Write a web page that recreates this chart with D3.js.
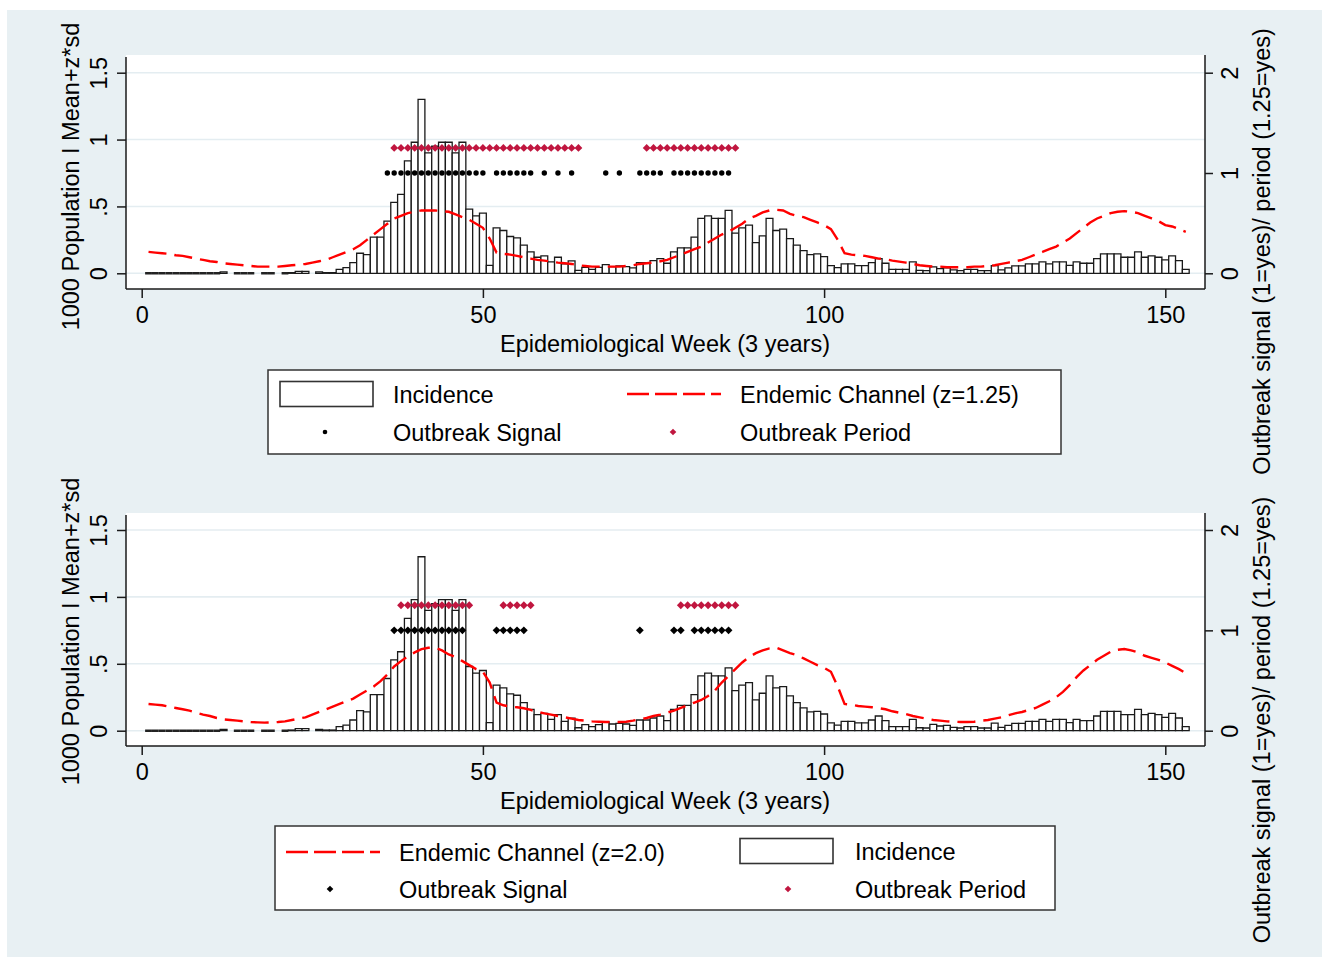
<!DOCTYPE html>
<html><head><meta charset="utf-8">
<script src="https://cdn.jsdelivr.net/npm/d3@7"></script>
<style>
html,body{margin:0;padding:0;background:#fff;}
svg{display:block;font-family:"Liberation Sans",Arial,Helvetica,sans-serif;}
</style></head><body>
<svg id="chart" width="1325" height="959"></svg>
<script>
// ---------- DATA ----------
const weeks = d3.range(1, 154); // epidemiological weeks 1..153

const incidence = [
  0,0,0,0,0,0,0,0,0,0,
  0,0.01,null,0,0,0,null,0,0,null,
  0,0.005,0.015,0.015,null,0.01,0.005,0.005,0.03,0.042,
  0.08,0.15,0.14,0.27,0.27,0.39,0.53,0.59,0.84,0.98,
  1.30,0.90,0.95,0.98,0.98,0.90,0.98,0.48,0.43,0.45,
  0.06,0.34,0.32,0.275,0.265,0.21,0.16,0.12,0.13,0.085,
  0.12,0.07,0.093,0.022,0.045,0.03,0.045,0.065,0.05,0.055,
  0.05,0.04,0.08,0.08,0.095,0.11,0.075,0.16,0.19,0.19,
  0.27,0.41,0.43,0.41,0.41,0.47,0.30,0.34,0.36,0.23,
  0.28,0.41,0.32,0.33,0.26,0.21,0.17,0.14,0.145,0.125,
  0.058,0.042,0.07,0.07,0.058,0.058,0.08,0.11,0.075,0.03,
  0.03,0.03,0.085,0.022,0.02,0.048,0.035,0.04,0.025,0.02,
  0.03,0.03,0.02,0.02,0.057,0.025,0.04,0.055,0.055,0.07,
  0.07,0.085,0.07,0.085,0.085,0.06,0.085,0.075,0.075,0.11,
  0.145,0.145,0.145,0.12,0.12,0.16,0.12,0.13,0.12,0.10,
  0.13,0.095,0.03
];

const endemicZ125 = [
  0.16,0.155,0.15,0.145,0.135,0.13,0.12,0.11,0.10,0.09,
  0.085,0.075,0.07,0.065,0.06,0.055,0.05,0.05,0.05,0.05,
  0.055,0.06,0.065,0.07,0.08,0.09,0.10,0.12,0.14,0.16,
  0.18,0.21,0.25,0.29,0.33,0.37,0.41,0.43,0.45,0.46,
  0.47,0.47,0.47,0.465,0.46,0.44,0.42,0.40,0.37,0.34,
  0.26,0.155,0.145,0.14,0.13,0.12,0.11,0.10,0.095,0.087,
  0.08,0.075,0.07,0.06,0.055,0.05,0.05,0.05,0.05,0.05,
  0.055,0.06,0.07,0.075,0.08,0.09,0.10,0.12,0.14,0.16,
  0.18,0.20,0.23,0.26,0.29,0.31,0.34,0.37,0.41,0.43,
  0.455,0.47,0.475,0.47,0.445,0.43,0.42,0.40,0.38,0.36,
  0.33,0.25,0.15,0.14,0.135,0.13,0.12,0.11,0.105,0.095,
  0.087,0.08,0.07,0.06,0.055,0.05,0.05,0.045,0.045,0.045,
  0.045,0.05,0.05,0.055,0.06,0.07,0.08,0.09,0.10,0.12,
  0.14,0.16,0.18,0.20,0.23,0.26,0.30,0.34,0.38,0.41,
  0.43,0.45,0.46,0.465,0.46,0.45,0.43,0.41,0.39,0.36,
  0.35,0.33,0.31
];

const endemicZ20 = [
  0.20,0.195,0.19,0.18,0.17,0.16,0.15,0.135,0.12,0.11,
  0.095,0.085,0.08,0.075,0.07,0.065,0.062,0.06,0.062,0.065,
  0.07,0.08,0.09,0.10,0.12,0.14,0.16,0.18,0.20,0.22,
  0.24,0.27,0.30,0.33,0.37,0.42,0.48,0.52,0.555,0.585,
  0.61,0.62,0.62,0.60,0.57,0.55,0.52,0.49,0.46,0.44,
  0.36,0.21,0.19,0.18,0.175,0.168,0.155,0.14,0.13,0.12,
  0.11,0.10,0.09,0.08,0.075,0.07,0.067,0.065,0.065,0.065,
  0.067,0.075,0.085,0.095,0.11,0.12,0.135,0.15,0.17,0.19,
  0.21,0.23,0.26,0.30,0.36,0.41,0.46,0.51,0.55,0.58,
  0.60,0.615,0.62,0.60,0.58,0.565,0.54,0.515,0.49,0.47,
  0.44,0.33,0.20,0.195,0.185,0.18,0.175,0.168,0.16,0.145,
  0.135,0.125,0.11,0.10,0.09,0.08,0.075,0.07,0.067,0.065,
  0.065,0.067,0.075,0.08,0.09,0.10,0.115,0.13,0.14,0.155,
  0.17,0.195,0.22,0.25,0.29,0.34,0.40,0.45,0.49,0.53,
  0.56,0.59,0.605,0.61,0.60,0.585,0.56,0.545,0.53,0.51,
  0.485,0.46,0.43
];

// weeks flagged (signal = 1, period = 1.25 on right axis)
const signalTop = [36,37,38,39,40,41,42,43,44,45,46,47,48,49,50,52,53,54,55,56,57,59,61,63,68,70,73,74,75,76,78,79,80,81,82,83,84,85,86];
const periodTop = [37,38,39,40,41,42,43,44,45,46,47,48,49,50,51,52,53,54,55,56,57,58,59,60,61,62,63,64,74,75,76,77,78,79,80,81,82,83,84,85,86,87];
const signalBottom = [37,38,39,40,41,42,43,44,45,46,47,52,53,54,55,56,73,78,79,81,82,83,84,85,86];
const periodBottom = [38,39,40,41,42,43,44,45,46,47,48,53,54,55,56,57,79,80,81,82,83,84,85,86,87];
const signalLevel = 1;
const periodLevel = 1.25;

const xTicks = [0, 50, 100, 150];
const yTicks = [0, 0.5, 1, 1.5];
const yTickLabels = ["0", ".5", "1", "1.5"];
const y2Ticks = [0, 1, 2];

const xTitle = "Epidemiological Week (3 years)";
const yTitle = "1000 Population I Mean+z*sd";
const y2Title = "Outbreak signal (1=yes)/ period (1.25=yes)";
const legendTop = ["Incidence", "Endemic Channel (z=1.25)", "Outbreak Signal", "Outbreak Period"];
const legendBottom = ["Endemic Channel (z=2.0)", "Incidence", "Outbreak Signal", "Outbreak Period"];

// ---------- STYLE ----------
const BG = "#e8f0f3", GRID = "#e4edf1", AX = "#1a1a1a", RED = "#ff0000", CRIMSON = "#c0163f";
const FS = 23.5;
const DASH = "18,8";

const svg = d3.select("#chart");
svg.append("rect").attr("x", 7).attr("y", 10).attr("width", 1315).attr("height", 947).attr("fill", BG);

const x = d3.scaleLinear().domain([0, 150]).range([141.7, 1165.3]);
const bw = x(1) - x(0);

function diamond(cx, cy, r) {
  return `M${cx},${cy - r}L${cx + r},${cy}L${cx},${cy + r}L${cx - r},${cy}Z`;
}

function drawPanel(p) {
  const g = svg.append("g");
  const L = 126, R = 1205;
  const y = d3.scaleLinear().domain([0, 1.5]).range([p.y0, p.y15]);
  const y2 = d3.scaleLinear().domain([0, 2]).range([p.y0, p.y15]);

  // plot region
  g.append("rect").attr("x", L).attr("y", p.top).attr("width", R - L).attr("height", p.bottom - p.top).attr("fill", "#fff");

  // gridlines
  g.selectAll(".grid").data(yTicks).join("line")
    .attr("x1", L).attr("x2", R).attr("y1", d => y(d)).attr("y2", d => y(d))
    .attr("stroke", GRID).attr("stroke-width", 1.6);

  // bars
  const barData = weeks.map((w, i) => ({ w, v: incidence[i] })).filter(d => d.v !== null);
  g.selectAll(".bar").data(barData).join("path")
    .attr("d", d => {
      const x0 = x(d.w) - bw / 2, x1 = x(d.w) + bw / 2, yb = y(0), yt = y(d.v);
      return `M${x0},${yb}V${yt}H${x1}V${yb}Z`;
    })
    .attr("fill", "#fff").attr("stroke", d => d.v === 0 ? "#222" : AX).attr("stroke-width", d => d.v === 0 ? 2.4 : 1.3);

  // endemic line
  const line = d3.line().x((d, i) => x(weeks[i])).y(d => y(d));
  g.append("path").attr("d", line(p.endemic)).attr("fill", "none")
    .attr("stroke", RED).attr("stroke-width", 2.4).attr("stroke-dasharray", DASH);

  // signal markers
  if (p.signalShape === "circle") {
    g.selectAll(".sig").data(p.signal).join("circle")
      .attr("cx", d => x(d)).attr("cy", y2(signalLevel)).attr("r", 2.7).attr("fill", "#000");
  } else {
    g.selectAll(".sig").data(p.signal).join("path")
      .attr("d", d => diamond(x(d), y2(signalLevel), 3.9)).attr("fill", "#000");
  }
  // period markers
  g.selectAll(".per").data(p.period).join("path")
    .attr("d", d => diamond(x(d), y2(periodLevel), 3.9)).attr("fill", CRIMSON);

  // axes lines
  g.append("line").attr("x1", L).attr("x2", L).attr("y1", p.top + 2).attr("y2", p.bottom).attr("stroke", AX).attr("stroke-width", 1.5);
  g.append("line").attr("x1", R).attr("x2", R).attr("y1", p.top).attr("y2", p.bottom).attr("stroke", AX).attr("stroke-width", 1.5);
  g.append("line").attr("x1", L).attr("x2", R).attr("y1", p.bottom).attr("y2", p.bottom).attr("stroke", AX).attr("stroke-width", 1.5);

  // bottom axis
  const ax = g.append("g").attr("transform", `translate(0,${p.bottom})`)
    .call(d3.axisBottom(x).tickValues(xTicks).tickSize(9).tickSizeOuter(0));
  ax.select(".domain").remove();
  ax.selectAll("line").attr("stroke", AX).attr("stroke-width", 1.5);
  ax.selectAll("text").attr("y", 34).attr("dy", 0).attr("fill", "#000").style("font-size", FS + "px").style("font-family", "inherit");

  // left axis
  const ay = g.append("g").attr("transform", `translate(${L},0)`)
    .call(d3.axisLeft(y).tickValues(yTicks).tickSize(9).tickSizeOuter(0).tickFormat((d, i) => yTickLabels[i]));
  ay.select(".domain").remove();
  ay.selectAll("line").attr("stroke", AX).attr("stroke-width", 1.5);
  ay.selectAll("text").attr("x", 0).attr("dy", 0).attr("text-anchor", "middle")
    .attr("transform", "translate(-19,0) rotate(-90)").attr("fill", "#000")
    .style("font-size", FS + "px").style("font-family", "inherit");

  // right axis
  const ay2 = g.append("g").attr("transform", `translate(${R},0)`)
    .call(d3.axisRight(y2).tickValues(y2Ticks).tickSize(8).tickSizeOuter(0).tickFormat(d3.format("d")));
  ay2.select(".domain").remove();
  ay2.selectAll("line").attr("stroke", AX).attr("stroke-width", 1.5);
  ay2.selectAll("text").attr("x", 0).attr("dy", 0).attr("text-anchor", "middle")
    .attr("transform", "translate(33,0) rotate(-90)").attr("fill", "#000")
    .style("font-size", FS + "px").style("font-family", "inherit");

  // titles
  g.append("text").attr("x", 665).attr("y", p.xTitleY).attr("text-anchor", "middle").style("font-size", FS + "px").text(xTitle);
  g.append("text").attr("transform", `translate(79,${p.yTitleY}) rotate(-90)`).attr("text-anchor", "middle").style("font-size", FS + "px").text(yTitle);
  g.append("text").attr("transform", `translate(1270,${p.y2TitleY}) rotate(-90)`).attr("text-anchor", "middle").style("font-size", FS + "px").text(y2Title);

  // legend
  const lg = p.legend;
  g.append("rect").attr("x", lg.x).attr("y", lg.y).attr("width", lg.w).attr("height", lg.h)
    .attr("fill", "#fff").attr("stroke", "#333").attr("stroke-width", 1.5);
  lg.items.forEach(it => {
    if (it.kind === "bar") {
      g.append("rect").attr("x", it.sx).attr("y", it.sy - 12.5).attr("width", 93).attr("height", 25)
        .attr("fill", "#fff").attr("stroke", "#333").attr("stroke-width", 1.6);
    } else if (it.kind === "line") {
      g.append("line").attr("x1", it.sx).attr("x2", it.sx + 94).attr("y1", it.sy).attr("y2", it.sy)
        .attr("stroke", RED).attr("stroke-width", 2.4).attr("stroke-dasharray", "22,6");
    } else if (it.kind === "dot") {
      g.append("circle").attr("cx", it.sx).attr("cy", it.sy).attr("r", 2.3).attr("fill", "#000");
    } else if (it.kind === "bdiam") {
      g.append("path").attr("d", diamond(it.sx, it.sy, 3.3)).attr("fill", "#000");
    } else if (it.kind === "rdiam") {
      g.append("path").attr("d", diamond(it.sx, it.sy, 3.3)).attr("fill", CRIMSON);
    }
    g.append("text").attr("x", it.tx).attr("y", it.sy + 9).style("font-size", FS + "px").text(it.label);
  });
}

drawPanel({
  top: 55, bottom: 289, y0: 273.3, y15: 72.7,
  xTitleY: 352, yTitleY: 176.5, y2TitleY: 251.5,
  endemic: endemicZ125, signal: signalTop, period: periodTop, signalShape: "circle",
  legend: {
    x: 268, y: 370, w: 793, h: 84,
    items: [
      { kind: "bar", sx: 280, sy: 394, tx: 393, label: legendTop[0] },
      { kind: "line", sx: 627, sy: 394, tx: 740, label: legendTop[1] },
      { kind: "dot", sx: 325, sy: 432, tx: 393, label: legendTop[2] },
      { kind: "rdiam", sx: 673, sy: 432, tx: 740, label: legendTop[3] }
    ]
  }
});

drawPanel({
  top: 513, bottom: 746, y0: 730.7, y15: 530,
  xTitleY: 809, yTitleY: 631.5, y2TitleY: 720,
  endemic: endemicZ20, signal: signalBottom, period: periodBottom, signalShape: "diamond",
  legend: {
    x: 275, y: 826, w: 780, h: 84,
    items: [
      { kind: "line", sx: 286, sy: 852, tx: 399, label: legendBottom[0] },
      { kind: "bar", sx: 740, sy: 851, tx: 855, label: legendBottom[1] },
      { kind: "bdiam", sx: 330, sy: 889, tx: 399, label: legendBottom[2] },
      { kind: "rdiam", sx: 788, sy: 889, tx: 855, label: legendBottom[3] }
    ]
  }
});
</script>
</body></html>
